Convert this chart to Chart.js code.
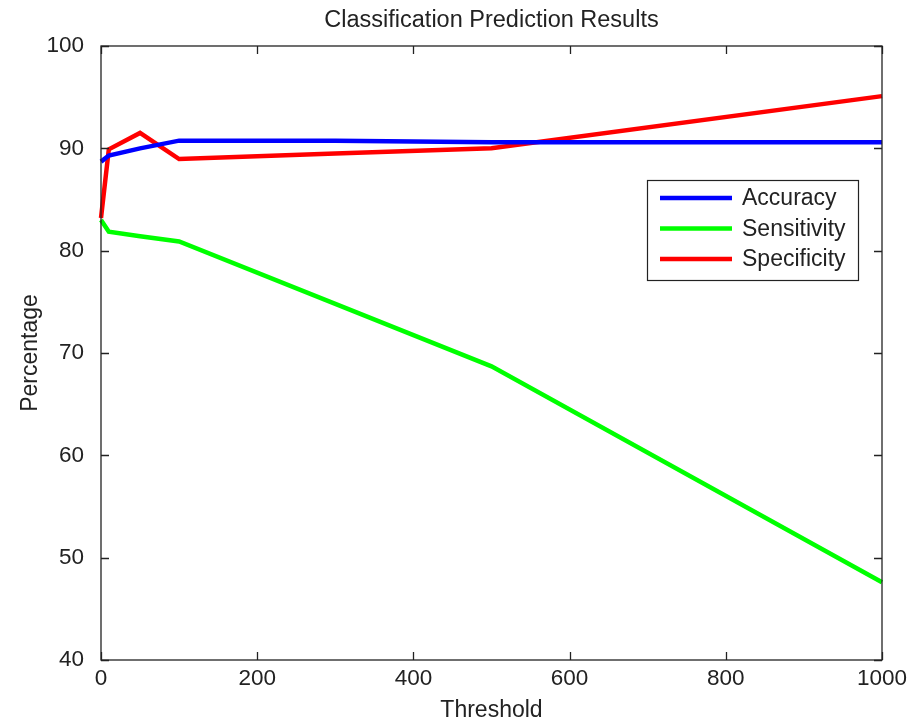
<!DOCTYPE html>
<html>
<head>
<meta charset="utf-8">
<script src="https://cdn.jsdelivr.net/npm/chart.js@4.4.1/dist/chart.umd.min.js"></script>
<style>
  html, body { margin: 0; padding: 0; background: #fff; }
  #wrap { width: 911px; height: 722px; }
</style>
</head>
<body>
<div id="wrap"><canvas id="grafico" width="911" height="722"></canvas></div>
<script>
const thresholds = [0, 10, 50, 100, 300, 500, 1000];
const accuracy = [88.7, 89.3, 90.0, 90.75, 90.75, 90.6, 90.6];
const sensitivity = [83.0, 81.85, 81.4, 80.9, 74.8, 68.7, 47.6];
const specificity = [83.2, 89.9, 91.5, 88.95, 89.5, 90.0, 95.1];
const seriesNames = ['Accuracy', 'Sensitivity', 'Specificity'];
const seriesColors = ['#0000ff', '#00ff00', '#ff0000'];
const xTicks = [0, 200, 400, 600, 800, 1000];
const yTicks = [40, 50, 60, 70, 80, 90, 100];
const chartTitle = 'Classification Prediction Results';

const FONT = '"Liberation Sans", Arial, sans-serif';
const INK = '#222';

const pares = ys => thresholds.map((t, i) => ({x: t, y: ys[i]}));

// caja de ejes con ticks hacia dentro, titulo y leyenda estilo matlab
const marcoMatlab = {
    id: 'marcoMatlab',
    afterDraw(chart) {
        const {ctx, chartArea: a, scales: {x, y}} = chart;
        ctx.save();
        ctx.strokeStyle = INK;
        ctx.lineWidth = 1.3;
        ctx.strokeRect(a.left, a.top, a.width, a.height);
        const tl = 8;
        ctx.beginPath();
        xTicks.forEach(v => {
            const px = Math.round(x.getPixelForValue(v)) + 0.5;
            ctx.moveTo(px, a.bottom); ctx.lineTo(px, a.bottom - tl);
            ctx.moveTo(px, a.top); ctx.lineTo(px, a.top + tl);
        });
        yTicks.forEach(v => {
            const py = Math.round(y.getPixelForValue(v)) + 0.5;
            ctx.moveTo(a.left, py); ctx.lineTo(a.left + tl, py);
            ctx.moveTo(a.right, py); ctx.lineTo(a.right - tl, py);
        });
        ctx.stroke();

        // titulo
        ctx.fillStyle = INK;
        ctx.font = '23.5px ' + FONT;
        ctx.textAlign = 'center';
        ctx.textBaseline = 'middle';
        ctx.fillText(chartTitle, (a.left + a.right) / 2, 21);

        // leyenda
        ctx.font = '23px ' + FONT;
        const bw = 211, bh = 100;
        const bx = a.right - 24 - bw, by = a.top + 134;
        ctx.fillStyle = '#fff';
        ctx.fillRect(bx, by, bw, bh);
        ctx.lineWidth = 1.2;
        ctx.strokeRect(bx + 0.5, by + 0.5, bw, bh);
        ctx.textAlign = 'left';
        chart.data.datasets.forEach((ds, i) => {
            const ly = by + 18 + i * 30.5;
            ctx.strokeStyle = ds.borderColor;
            ctx.lineWidth = 4.5;
            ctx.beginPath();
            ctx.moveTo(bx + 13, ly); ctx.lineTo(bx + 85, ly);
            ctx.stroke();
            ctx.fillStyle = INK;
            ctx.fillText(ds.label, bx + 95, ly + 1);
        });
        ctx.restore();
    }
};

new Chart(document.getElementById('grafico'), {
    type: 'line',
    data: {
        datasets: [accuracy, sensitivity, specificity].map((s, i) => ({
            label: seriesNames[i],
            data: pares(s),
            borderColor: seriesColors[i],
            backgroundColor: seriesColors[i],
            borderWidth: 4.5,
            pointRadius: 0,
            tension: 0,
            clip: 4
        }))
    },
    options: {
        responsive: false,
        animation: false,
        layout: { padding: { top: 46, right: 29, left: 0, bottom: 0 } },
        plugins: { legend: { display: false }, title: { display: false }, tooltip: { enabled: false } },
        scales: {
            x: {
                type: 'linear', min: 0, max: 1000,
                afterFit: s => { s.height = 62; },
                afterBuildTicks: s => { s.ticks = xTicks.map(v => ({value: v})); },
                grid: { display: false },
                border: { display: false },
                ticks: { color: INK, padding: 0, callback: v => String(v),
                         font: { family: FONT, size: 22.5, lineHeight: 1 } },
                title: { display: true, text: 'Threshold', color: INK, padding: { top: 1, bottom: 0 },
                         font: { family: FONT, size: 23, lineHeight: 1 } }
            },
            y: {
                min: 40, max: 100,
                afterFit: s => { s.width = 101; },
                afterBuildTicks: s => { s.ticks = yTicks.map(v => ({value: v})); },
                grid: { display: false },
                border: { display: false },
                ticks: { color: INK, padding: 9, callback: v => String(v),
                         font: { family: FONT, size: 22.5 } },
                title: { display: true, text: 'Percentage', color: INK, padding: { top: 19, bottom: 0 },
                         font: { family: FONT, size: 23, lineHeight: 1 } }
            }
        }
    },
    plugins: [marcoMatlab]
});
</script>
</body>
</html>
